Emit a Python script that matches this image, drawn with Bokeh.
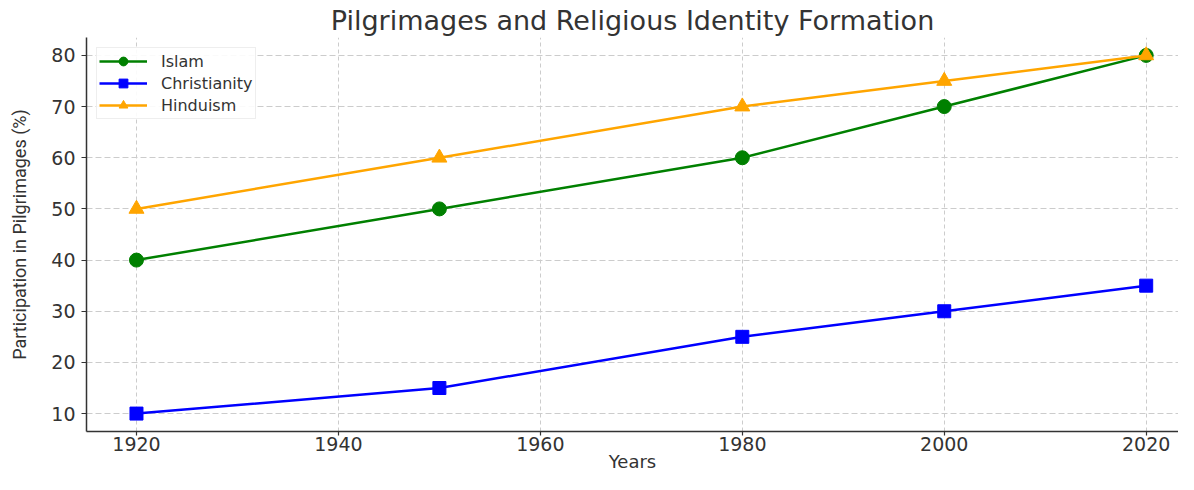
from bokeh.plotting import figure
from bokeh.models import Range1d, Legend, LegendItem, FixedTicker
from bokeh.embed import file_html
from bokeh.resources import INLINE

years = [1920, 1950, 1980, 2000, 2020]
islam = [40, 50, 60, 70, 80]
christianity = [10, 15, 25, 30, 35]
hinduism = [50, 60, 70, 75, 80]
x_ticks = [1920, 1940, 1960, 1980, 2000, 2020]
y_ticks = [10, 20, 30, 40, 50, 60, 70, 80]

p = figure(width=1178, height=474, output_backend="svg", toolbar_location=None,
           x_range=Range1d(1915.05, 2023.2), y_range=Range1d(6.5, 83.5),
           min_border_left=86, min_border_right=0, min_border_top=0, min_border_bottom=0)

p.title.text = "Pilgrimages and Religious Identity Formation"
p.title.align = "center"
p.title.text_font = "DejaVu Sans"
p.title.text_font_size = "27px"
p.title.text_font_style = "normal"
p.title.text_color = "#333333"
p.title.offset = 0
p.title.standoff = 4

p.outline_line_color = None
p.background_fill_color = "white"

for ax in (p.xaxis[0], p.yaxis[0]):
    ax.axis_line_color = "#333333"
    ax.axis_line_width = 1.5
    ax.major_tick_line_color = "#333333"
    ax.major_tick_line_width = 1.2
    ax.major_tick_out = 5
    ax.major_tick_in = 0
    ax.minor_tick_line_color = None
    ax.major_label_text_font = "DejaVu Sans"
    ax.major_label_text_font_size = "19px"
    ax.major_label_text_color = "#333333"
    ax.axis_label_text_font_style = "normal"
    ax.axis_label_text_color = "#333333"

p.xaxis.ticker = FixedTicker(ticks=x_ticks)
p.yaxis.ticker = FixedTicker(ticks=y_ticks)
p.xaxis.axis_label = "Years"
p.xaxis.axis_label_text_font = "DejaVu Sans"
p.xaxis.axis_label_text_font_size = "18px"
p.xaxis.axis_label_standoff = -3
p.xaxis.major_label_standoff = 1
p.xaxis.major_tick_out = 4
p.yaxis.axis_label = "Participation in Pilgrimages (%)"
p.yaxis.axis_label_text_font = "'Liberation Sans Narrow', Roboto"
p.yaxis.axis_label_text_font_size = "18px"
p.yaxis.axis_label_standoff = 18
p.yaxis.major_label_standoff = 6

p.xgrid.grid_line_color = "#cccccc"
p.xgrid.grid_line_dash = "4 3"
p.ygrid.grid_line_color = "#cccccc"
p.ygrid.grid_line_dash = "6 3"

l1 = p.line(years, islam, color="green", line_width=2.5)
m1 = p.scatter(years, islam, marker="circle", size=14, color="green")
l2 = p.line(years, christianity, color="blue", line_width=2.5)
m2 = p.scatter(years, christianity, marker="square", size=13, color="blue")
l3 = p.line(years, hinduism, color="orange", line_width=2.5)
m3 = p.scatter(years, hinduism, marker="triangle", size=15, color="orange")

legend = Legend(items=[
    LegendItem(label="Islam", renderers=[l1, m1]),
    LegendItem(label="Christianity", renderers=[l2, m2]),
    LegendItem(label="Hinduism", renderers=[l3, m3]),
], location="top_left")
legend.label_text_font = "DejaVu Sans"
legend.label_text_font_size = "16px"
legend.label_text_color = "#333333"
legend.border_line_color = "#dddddd"
legend.border_line_width = 1
legend.background_fill_alpha = 0.9
legend.glyph_width = 48
legend.glyph_height = 22
legend.spacing = 0
legend.padding = 2
legend.margin = 10
legend.label_standoff = 14
p.add_layout(legend)

open("out.html", "w").write(file_html(p, INLINE))
